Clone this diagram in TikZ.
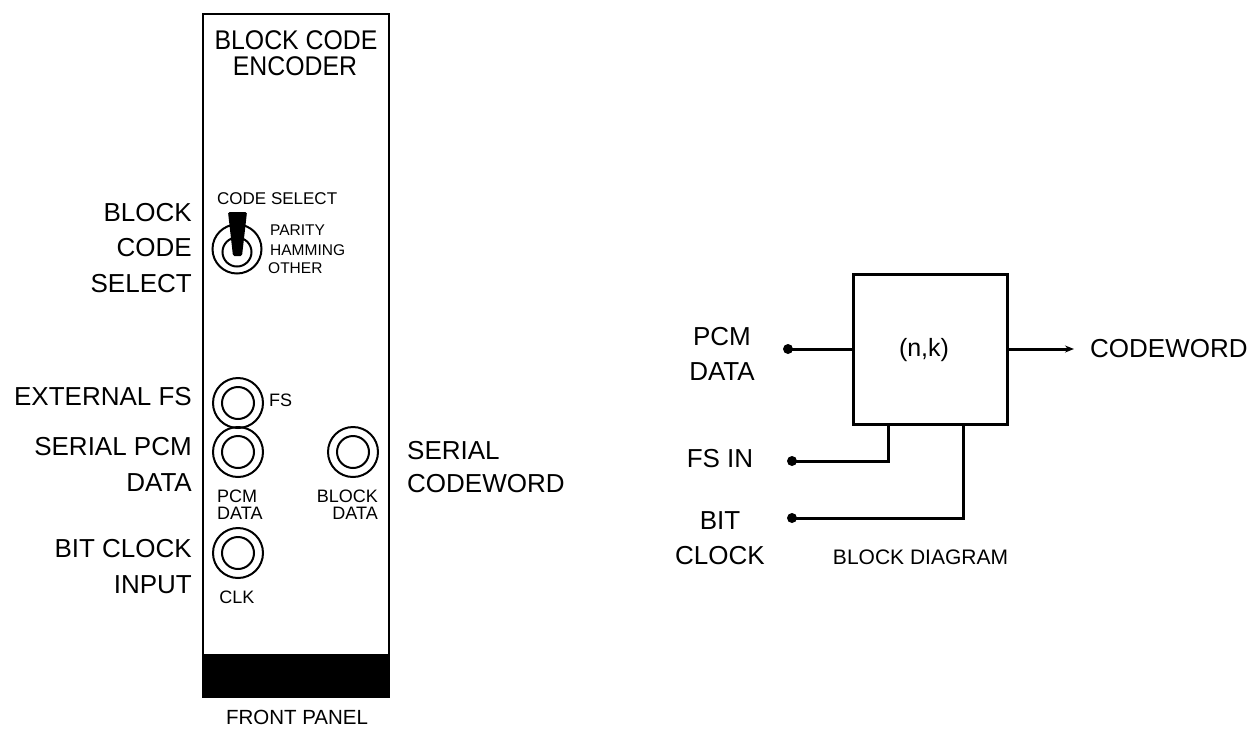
\documentclass[tikz,border=0pt]{standalone}
\usepackage{fontspec}
\setmainfont{Liberation Sans}
\usetikzlibrary{arrows.meta}
\begin{document}
\begin{tikzpicture}[x=1pt,y=-1pt,
  lbl/.style={font=\fontsize{26}{35.5}\selectfont, inner sep=0pt},
  jacklbl/.style={font=\fontsize{18}{18}\selectfont, inner sep=0pt},
  sellbl/.style={font=\fontsize{15.5}{15.5}\selectfont, inner sep=0pt, anchor=west},
  jack/.style={circle, draw, line width=2pt, minimum size=50pt, inner sep=0pt},
  dotnode/.style={circle, fill, inner sep=0pt, minimum size=10pt},
  wire/.style={line width=3pt},
  encbox/.style={draw, line width=3pt, minimum width=154pt, minimum height=150pt, inner sep=0pt}
]
\useasboundingbox (0,0) rectangle (1252,729);

% ---------- front panel ----------
\draw[line width=2.5pt] (203,14) rectangle (389,697);
\fill (203,654) rectangle (389,697);
\node[inner sep=0pt, font=\fontsize{27}{27}\selectfont, xscale=0.92] (title1) at (296,40) {BLOCK CODE};
\node[inner sep=0pt, font=\fontsize{27}{27}\selectfont, xscale=0.92] (title2) at (295,66) {ENCODER};

% code select switch
\node[font=\fontsize{17}{17}\selectfont, inner sep=0pt, anchor=west] (codesel) at (217,199) {CODE SELECT};
\node[circle, draw, line width=2pt, minimum size=49pt, inner sep=0pt] (sw) at (237,249) {};
\draw[line width=2pt] (237,252) circle (14.5);
\fill[rounded corners=1.5pt] (228,212) -- (247,212) -- (242,256) -- (233,256) -- cycle;
\node[sellbl] (parity) at (270,230) {PARITY};
\node[sellbl] (hamming) at (270,250) {HAMMING};
\node[sellbl] (other) at (268,268) {OTHER};

% jacks
\node[jack] (fsj) at (238,403) {};
\draw[line width=2pt] (fsj.center) circle (16);
\node[jack] (pcmj) at (238,452) {};
\draw[line width=2pt] (pcmj.center) circle (16);
\node[jack] (blkj) at (353,452) {};
\draw[line width=2pt] (blkj.center) circle (16);
\node[jack] (clkj) at (238,553) {};
\draw[line width=2pt] (clkj.center) circle (16);

\node[jacklbl, anchor=west] (fslbl) at (269,400) {FS};
\node[jacklbl, anchor=west] (pcmlbl1) at (217,496) {PCM};
\node[jacklbl, anchor=west] (pcmlbl2) at (217,513) {DATA};
\node[jacklbl, anchor=east] (blklbl1) at (378,496) {BLOCK};
\node[jacklbl, anchor=east] (blklbl2) at (378,513) {DATA};
\node[jacklbl] (clklbl) at (237,597) {CLK};

% side labels
\node[lbl, align=right, anchor=east] (l1) at (192,248) {BLOCK\\CODE\\SELECT};
\node[lbl, anchor=east] (l2) at (192,397) {EXTERNAL FS};
\node[lbl, align=right, anchor=east] (l3) at (192,464.5) {SERIAL PCM\\DATA};
\node[lbl, align=right, anchor=east] (l4) at (192,566.5) {BIT CLOCK\\INPUT};
\node[lbl, align=left, anchor=west, font=\fontsize{26}{33}\selectfont] (r1) at (407,467.5) {SERIAL\\CODEWORD};
\node[inner sep=0pt, font=\fontsize{20.5}{20.5}\selectfont] (fp) at (297,717) {FRONT PANEL};

% ---------- block diagram ----------
\node[encbox] (enc) at (930,349) {};
\node[inner sep=0pt, font=\fontsize{25}{25}\selectfont] (nk) at (924,350) {(n,k)};

\node[dotnode] (pcmd) at (788,349) {};
\node[dotnode] (fsd) at (792,461) {};
\node[dotnode] (bitd) at (792,518) {};

\node[lbl, align=center] (pcmt) at (722,354) {PCM\\DATA};
\node[lbl] (fst) at (720,458.5) {FS IN};
\node[lbl, align=center] (bitt) at (720,538) {BIT\\CLOCK};
\node[lbl, anchor=west] (cw) at (1090,349) {CODEWORD};
\node[inner sep=0pt, font=\fontsize{21}{21}\selectfont] (bd) at (920.5,557.5) {BLOCK DIAGRAM};

\draw[wire] (pcmd.center) -- (pcmd.center -| enc.west);
\draw[wire] (fsd.center) -| ([xshift=-42pt]enc.south);
\draw[wire] (bitd.center) -| ([xshift=33pt]enc.south);
\draw[wire, -{Stealth[length=9pt,width=7pt]}] (enc.east) -- ([xshift=-16pt]cw.west);
\end{tikzpicture}
\end{document}
